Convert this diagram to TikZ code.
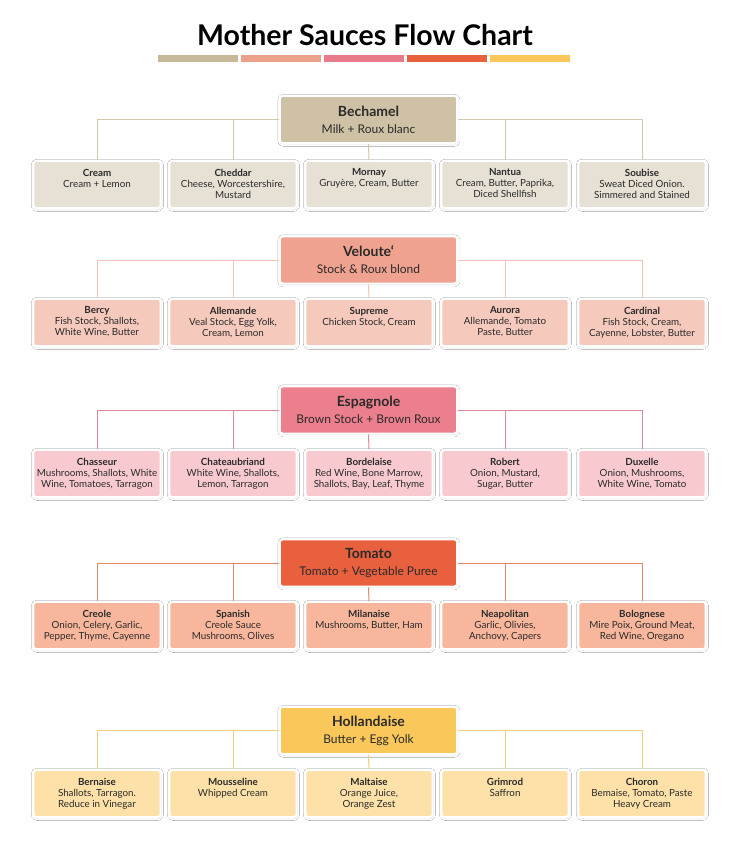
\documentclass[tikz,border=0pt]{standalone}
\usepackage{fontspec}
\setmainfont{Lato}
\usetikzlibrary{shadows.blur}
\definecolor{becP}{HTML}{CFC1A5}\definecolor{becK}{HTML}{E7E1D5}\definecolor{becL}{HTML}{D2C6AE}
\definecolor{velP}{HTML}{EFA28F}\definecolor{velK}{HTML}{F6C9BD}\definecolor{velL}{HTML}{F0C3B6}
\definecolor{espP}{HTML}{EC7F8E}\definecolor{espK}{HTML}{F8CAD0}\definecolor{espL}{HTML}{DE8799}
\definecolor{tomP}{HTML}{E9603E}\definecolor{tomK}{HTML}{F8B79C}\definecolor{tomL}{HTML}{E58665}
\definecolor{holP}{HTML}{FAC85A}\definecolor{holK}{HTML}{FDE1A8}\definecolor{holL}{HTML}{F5CD72}
\definecolor{barA}{HTML}{C8B89A}\definecolor{barB}{HTML}{EBA08A}\definecolor{barC}{HTML}{E87B8A}
\definecolor{barD}{HTML}{E8613F}\definecolor{barE}{HTML}{FAC75A}
\definecolor{ink}{HTML}{2A2A2A}
\tikzset{
  box/.style={rectangle, rounded corners=3pt, draw=white, line width=1.6pt,
    blur shadow={shadow blur steps=10, shadow blur radius=2.5pt, shadow xshift=0.4pt, shadow yshift=-0.8pt, shadow opacity=12},
    inner sep=0pt},
  parentbox/.style={box, minimum width=177pt, minimum height=47pt, align=center,
    text=ink, font=\fontsize{12}{17}\selectfont},
  kidbox/.style={box, minimum width=127pt, minimum height=47pt},
  kidtext/.style={anchor=north, align=center, text=ink, font=\fontsize{9.8}{11}\selectfont, inner sep=0pt},
  link/.style={line width=1pt},
  bar/.style={rectangle, inner sep=0pt, minimum width=80pt, minimum height=7pt},
}
\newcommand\kid[6]{%
  \node[kidbox, fill=#4] (#1) at (#2,#3) {};
  \node[kidtext] (#1t) at ([yshift=-8.5pt]#1.north) {\textbf{#5}\\#6};
}
\newcommand\mother[5]{%
  \node[parentbox, fill=#3] (#1) at (368.5,#2) {{\fontsize{14}{17}\selectfont\bfseries #4}\\#5};
}
\newcommand\links[3]{% parent, prefix, colour
  \draw[link, #3] (#1.west) -| (#2a.north);
  \draw[link, #3] (#1.west) -| (#2b.north);
  \draw[link, #3] (#1.east) -| (#2d.north);
  \draw[link, #3] (#1.east) -| (#2e.north);
  \draw[link, #3] (#1.south) -- (#2c.north);
}
\begin{document}
\begin{tikzpicture}[x=1pt,y=-1pt]
\fill[white] (0,0) rectangle (735,852);
\useasboundingbox (0,0) rectangle (735,852);
% title
\node[font=\fontsize{28.5}{32}\selectfont\bfseries, text=black] (title) at (365,35) {Mother Sauces Flow Chart};
\node[bar, fill=barA] (bar1) at (198,58.5) {};
\node[bar, fill=barB] (bar2) at (281,58.5) {};
\node[bar, fill=barC] (bar3) at (364,58.5) {};
\node[bar, fill=barD] (bar4) at (447,58.5) {};
\node[bar, fill=barE] (bar5) at (530,58.5) {};

% Bechamel
\mother{bec}{119.5}{becP}{Bechamel}{Milk + Roux blanc}
\kid{beca}{97}{184.5}{becK}{Cream}{Cream + Lemon}
\kid{becb}{233}{184.5}{becK}{Cheddar}{Cheese, Worcestershire,\\Mustard}
\kid{becc}{369}{184.5}{becK}{Mornay}{Gruyère, Cream, Butter}
\kid{becd}{505}{184.5}{becK}{Nantua}{Cream, Butter, Paprika,\\Diced Shellfish}
\kid{bece}{642}{184.5}{becK}{Soubise}{Sweat Diced Onion.\\Simmered and Stained}
\links{bec}{bec}{becL}

% Veloute
\mother{vel}{260}{velP}{Veloute‘}{Stock \& Roux blond}
\kid{vela}{97}{322.5}{velK}{Bercy}{Fish Stock, Shallots,\\White Wine, Butter}
\kid{velb}{233}{322.5}{velK}{Allemande}{Veal Stock, Egg Yolk,\\Cream, Lemon}
\kid{velc}{369}{322.5}{velK}{Supreme}{Chicken Stock, Cream}
\kid{veld}{505}{322.5}{velK}{Aurora}{Allemande, Tomato\\Paste, Butter}
\kid{vele}{642}{322.5}{velK}{Cardinal}{Fish Stock, Cream,\\Cayenne, Lobster, Butter}
\links{vel}{vel}{velL}

% Espagnole
\mother{esp}{410}{espP}{Espagnole}{Brown Stock + Brown Roux}
\kid{espa}{97}{473.5}{espK}{Chasseur}{Mushrooms, Shallots, White\\Wine, Tomatoes, Tarragon}
\kid{espb}{233}{473.5}{espK}{Chateaubriand}{White Wine, Shallots,\\Lemon, Tarragon}
\kid{espc}{369}{473.5}{espK}{Bordelaise}{Red Wine, Bone Marrow,\\Shallots, Bay, Leaf, Thyme}
\kid{espd}{505}{473.5}{espK}{Robert}{Onion, Mustard,\\Sugar, Butter}
\kid{espe}{642}{473.5}{espK}{Duxelle}{Onion, Mushrooms,\\White Wine, Tomato}
\links{esp}{esp}{espL}

% Tomato
\mother{tom}{563}{tomP}{Tomato}{Tomato + Vegetable Puree}
\kid{toma}{97}{625.5}{tomK}{Creole}{Onion, Celery, Garlic,\\Pepper, Thyme, Cayenne}
\kid{tomb}{233}{625.5}{tomK}{Spanish}{Creole Sauce\\Mushrooms, Olives}
\kid{tomc}{369}{625.5}{tomK}{Milanaise}{Mushrooms, Butter, Ham}
\kid{tomd}{505}{625.5}{tomK}{Neapolitan}{Garlic, Olivies,\\Anchovy, Capers}
\kid{tome}{642}{625.5}{tomK}{Bolognese}{Mire Poix, Ground Meat,\\Red Wine, Oregano}
\links{tom}{tom}{tomL}

% Hollandaise
\mother{hol}{730.5}{holP}{Hollandaise}{Butter + Egg Yolk}
\kid{hola}{97}{793.5}{holK}{Bernaise}{Shallots, Tarragon.\\Reduce in Vinegar}
\kid{holb}{233}{793.5}{holK}{Mousseline}{Whipped Cream}
\kid{holc}{369}{793.5}{holK}{Maltaise}{Orange Juice,\\Orange Zest}
\kid{hold}{505}{793.5}{holK}{Grimrod}{Saffron}
\kid{hole}{642}{793.5}{holK}{Choron}{Bemaise, Tomato, Paste\\Heavy Cream}
\links{hol}{hol}{holL}
\end{tikzpicture}
\end{document}
